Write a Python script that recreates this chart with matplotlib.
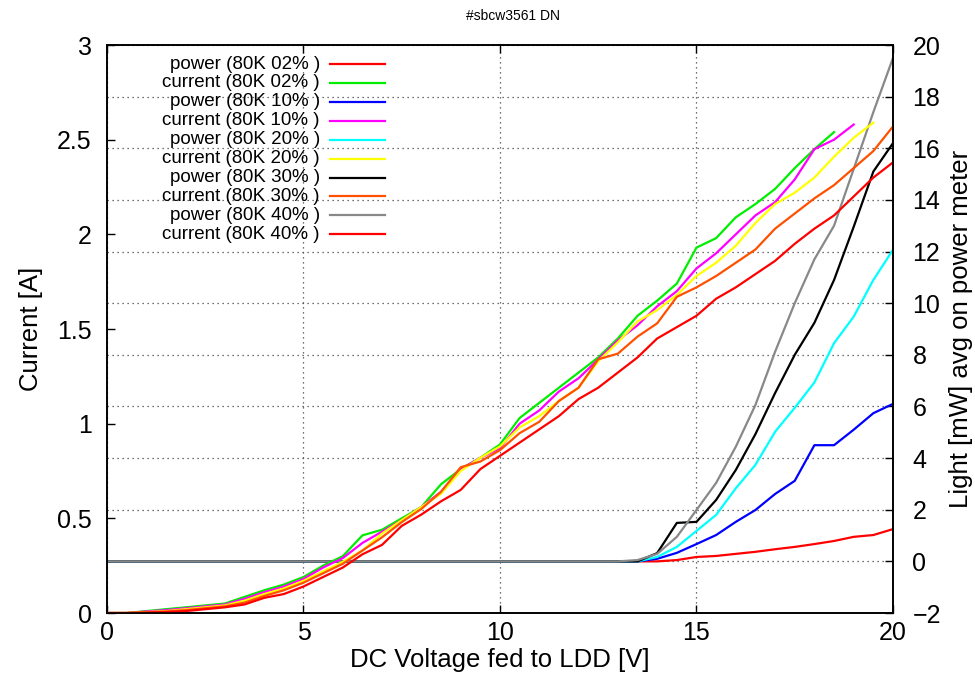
import matplotlib
matplotlib.use("Agg")
import matplotlib.pyplot as plt

plt.rcParams["font.family"] = ["Liberation Sans", "DejaVu Sans"]

# DC voltage steps [V]
voltage = [0.0, 0.5, 1.0, 1.5, 2.0, 2.5, 3.0, 3.5, 4.0, 4.5,
           5.0, 5.5, 6.0, 6.5, 7.0, 7.5, 8.0, 8.5, 9.0, 9.5,
           10.0, 10.5, 11.0, 11.5, 12.0, 12.5, 13.0, 13.5, 14.0, 14.5,
           15.0, 15.5, 16.0, 16.5, 17.0, 17.5, 18.0, 18.5, 19.0, 19.5, 20.0]

# light on power meter [mW]
power_02 = [0, 0, 0, 0, 0, 0, 0, 0, 0, 0,
            0, 0, 0, 0, 0, 0, 0, 0, 0, 0,
            0, 0, 0, 0, 0, 0, 0, 0, 0.0, 0.05,
            0.17, 0.21, 0.29, 0.37, 0.47, 0.56, 0.67, 0.79, 0.95, 1.02, 1.25]
power_10 = [0, 0, 0, 0, 0, 0, 0, 0, 0, 0,
            0, 0, 0, 0, 0, 0, 0, 0, 0, 0,
            0, 0, 0, 0, 0, 0, 0, 0, 0.1, 0.33,
            0.67, 1.02, 1.53, 1.99, 2.61, 3.12, 4.5, 4.5, 5.1, 5.74, 6.1]
power_20 = [0, 0, 0, 0, 0, 0, 0, 0, 0, 0,
            0, 0, 0, 0, 0, 0, 0, 0, 0, 0,
            0, 0, 0, 0, 0, 0, 0, 0, 0.17, 0.56,
            1.18, 1.8, 2.83, 3.74, 5.02, 5.95, 6.93, 8.45, 9.48, 10.9, 12.07]
power_30 = [0, 0, 0, 0, 0, 0, 0, 0, 0, 0,
            0, 0, 0, 0, 0, 0, 0, 0, 0, 0,
            0, 0, 0, 0, 0, 0, 0, 0, 0.32, 1.49,
            1.53, 2.38, 3.54, 4.93, 6.52, 8.0, 9.24, 10.9, 12.96, 15.1, 16.2]
power_40 = [0, 0, 0, 0, 0, 0, 0, 0, 0, 0,
            0, 0, 0, 0, 0, 0, 0, 0, 0, 0,
            0, 0, 0, 0, 0, 0, 0, 0.05, 0.29, 0.95,
            1.99, 3.04, 4.44, 6.06, 8.12, 10.0, 11.7, 13.0, 15.2, 17.4, 19.5]

# current [A]
current_02 = [0, 0, 0.01, 0.02, 0.03, 0.04, 0.05, 0.085, 0.12, 0.15,
              0.19, 0.25, 0.30, 0.41, 0.44, 0.50, 0.56, 0.68, 0.76, 0.82,
              0.89, 1.03, 1.11, 1.19, 1.27, 1.35, 1.45, 1.57, 1.65, 1.74,
              1.93, 1.98, 2.09, 2.16, 2.24, 2.35, 2.45, 2.54]
current_10 = [0, 0, 0.008, 0.015, 0.025, 0.035, 0.045, 0.075, 0.11, 0.14,
              0.18, 0.24, 0.29, 0.37, 0.43, 0.49, 0.56, 0.64, 0.76, 0.82,
              0.87, 1.00, 1.07, 1.17, 1.24, 1.34, 1.44, 1.52, 1.62, 1.70,
              1.82, 1.90, 2.00, 2.10, 2.17, 2.29, 2.45, 2.50, 2.58]
current_20 = [0, 0, 0.005, 0.01, 0.02, 0.03, 0.04, 0.065, 0.10, 0.13,
              0.17, 0.22, 0.27, 0.33, 0.42, 0.49, 0.56, 0.63, 0.75, 0.82,
              0.88, 0.98, 1.04, 1.12, 1.19, 1.33, 1.43, 1.54, 1.60, 1.68,
              1.78, 1.85, 1.94, 2.06, 2.16, 2.22, 2.30, 2.41, 2.51, 2.59]
current_30 = [0, 0, 0.003, 0.008, 0.015, 0.025, 0.035, 0.055, 0.09, 0.12,
              0.16, 0.21, 0.26, 0.33, 0.40, 0.48, 0.55, 0.64, 0.77, 0.80,
              0.86, 0.95, 1.01, 1.12, 1.19, 1.34, 1.37, 1.46, 1.53, 1.67,
              1.72, 1.78, 1.85, 1.92, 2.03, 2.11, 2.19, 2.26, 2.35, 2.44, 2.57]
current_40 = [0, 0, 0.002, 0.005, 0.01, 0.02, 0.03, 0.045, 0.08, 0.10,
              0.14, 0.19, 0.24, 0.31, 0.36, 0.46, 0.52, 0.59, 0.65, 0.76,
              0.83, 0.90, 0.97, 1.04, 1.13, 1.19, 1.27, 1.35, 1.45, 1.51,
              1.57, 1.66, 1.72, 1.79, 1.86, 1.95, 2.03, 2.10, 2.20, 2.30, 2.38]

series = [
    ("power (80K 02% )", "power", power_02, "#ff0000"),
    ("current (80K 02% )", "current", current_02, "#00ee00"),
    ("power (80K 10% )", "power", power_10, "#0000ff"),
    ("current (80K 10% )", "current", current_10, "#ff00ff"),
    ("power (80K 20% )", "power", power_20, "#00ffff"),
    ("current (80K 20% )", "current", current_20, "#ffff00"),
    ("power (80K 30% )", "power", power_30, "#000000"),
    ("current (80K 30% )", "current", current_30, "#ff5000"),
    ("power (80K 40% )", "power", power_40, "#888888"),
    ("current (80K 40% )", "current", current_40, "#ff0000"),
]

fig = plt.figure(figsize=(9.75, 6.74), dpi=100)
# host axes carries the light scale (right), twin carries current (left)
ax = fig.add_axes([0.1097, 0.0905, 0.8062, 0.8427])
axc = ax.twinx()

ax.yaxis.tick_right()
ax.yaxis.set_label_position("right")
axc.yaxis.tick_left()
axc.yaxis.set_label_position("left")

for label, kind, vals, color in series:
    target = ax if kind == "power" else axc
    target.plot(voltage[:len(vals)], vals, color=color, lw=1.6)

ax.set_xlim(0, 20)
ax.set_ylim(-2, 20)
axc.set_ylim(0, 3)
ax.set_xticks([0, 5, 10, 15, 20])
ax.set_yticks(range(-2, 21, 2))
axc.set_yticks([0, 0.5, 1, 1.5, 2, 2.5, 3])
axc.set_yticklabels(["0", "0.5", "1", "1.5", "2", "2.5", "3"])

ax.grid(True, color="#444444", linestyle=(0, (1, 3)), lw=0.9)
ax.set_axisbelow(True)

ax.tick_params(axis="x", direction="in", top=True, length=6, width=1,
               labelsize=18, pad=6)
ax.tick_params(axis="y", direction="in", length=6, width=1,
               labelsize=18, pad=14, left=False, right=True)
axc.tick_params(axis="y", direction="in", length=6, width=1,
                labelsize=18, pad=11, left=True, right=False)
for a in (ax, axc):
    for s in a.spines.values():
        s.set_linewidth(1.2)

ax.set_xlabel("DC Voltage fed to LDD [V]", fontsize=18.5, labelpad=2)
ax.set_ylabel("Light [mW] avg on power meter", fontsize=18.5, labelpad=6)
axc.set_ylabel("Current [A]", fontsize=18.5, labelpad=10)

fig.text(0.526, 0.977, "#sbcw3561 DN", ha="center", va="center", fontsize=10)

# gnuplot style key: right-aligned text, sample line after it
row0 = 0.9665
step = 0.0333
for i, (label, kind, vals, color) in enumerate(series):
    y = row0 - i * step
    ax.text(0.271, y, label, transform=ax.transAxes, ha="right", va="center",
            fontsize=13.5)
    ax.plot([0.284, 0.354], [y, y], transform=ax.transAxes, color=color,
            lw=1.6, clip_on=False)

fig.savefig("out.png", dpi=100)
